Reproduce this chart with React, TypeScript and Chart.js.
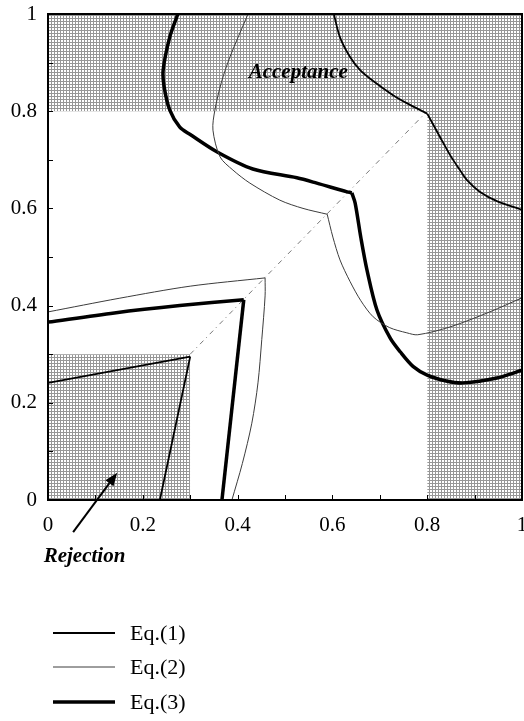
import React, { useEffect, useRef } from 'react';
import { Chart, registerables } from 'chart.js';

Chart.register(...registerables);

type Pt = [number, number];

// ---- data ----
const xTickLabels = ['0', '0.2', '0.4', '0.6', '0.8', '1'];
const yTickLabels = ['0', '0.2', '0.4', '0.6', '0.8', '1'];
const acceptanceThreshold = 0.8;
const rejectionThreshold = 0.3;
const legendLabels = ['Eq.(1)', 'Eq.(2)', 'Eq.(3)'];

// Eq.(1)
const eq1RejectH: Pt[] = [[0, 0.241], [0.3, 0.295]];
const eq1RejectV: Pt[] = [[0.3, 0.295], [0.236, 0]];
const eq1AcceptUp: Pt[] = [[0.8, 0.795], [0.76, 0.815], [0.728, 0.833], [0.686, 0.862], [0.658, 0.885], [0.637, 0.912], [0.616, 0.952], [0.603, 1]];
const eq1AcceptRight: Pt[] = [[0.8, 0.795], [0.827, 0.747], [0.85, 0.707], [0.869, 0.679], [0.884, 0.658], [0.91, 0.635], [0.947, 0.615], [1, 0.597]];

// Eq.(2)
const eq2RejectH: Pt[] = [[0, 0.387], [0.15, 0.415], [0.3, 0.44], [0.458, 0.457]];
const eq2RejectV: Pt[] = [[0.458, 0.457], [0.458, 0.42], [0.451, 0.33], [0.443, 0.241], [0.43, 0.158], [0.41, 0.075], [0.388, 0]];
const eq2AcceptUp: Pt[] = [[0.589, 0.588], [0.538, 0.6], [0.489, 0.617], [0.426, 0.652], [0.39, 0.679], [0.363, 0.706], [0.348, 0.761], [0.352, 0.802], [0.366, 0.86], [0.384, 0.912], [0.422, 1]];
const eq2AcceptDown: Pt[] = [[0.589, 0.588], [0.601, 0.541], [0.616, 0.494], [0.637, 0.45], [0.66, 0.41], [0.686, 0.377], [0.72, 0.355], [0.757, 0.344], [0.78, 0.34], [0.848, 0.356], [0.932, 0.387], [1, 0.416]];

// Eq.(3)
const eq3RejectH: Pt[] = [[0, 0.366], [0.14, 0.385], [0.278, 0.4], [0.413, 0.412]];
const eq3RejectV: Pt[] = [[0.413, 0.412], [0.367, 0]];
const eq3AcceptUp: Pt[] = [[0.641, 0.632], [0.631, 0.634], [0.567, 0.652], [0.525, 0.663], [0.432, 0.681], [0.357, 0.716], [0.3, 0.752], [0.278, 0.767], [0.257, 0.802], [0.245, 0.85], [0.243, 0.885], [0.257, 0.953], [0.274, 1]];
const eq3AcceptDown: Pt[] = [[0.641, 0.632], [0.648, 0.611], [0.66, 0.54], [0.673, 0.473], [0.694, 0.391], [0.722, 0.333], [0.743, 0.305], [0.77, 0.275], [0.8, 0.257], [0.84, 0.245], [0.876, 0.241], [0.947, 0.251], [1, 0.267]];

// diagonal
const diagonal: Pt[] = [[0.3, 0.3], [0.8, 0.8]];

// annotations (data units)
const acceptanceLabelPos: Pt = [0.528, 0.88];
const rejectionLabelPos: Pt = [0.077, -0.117];
const arrowStart: Pt = [0.053, -0.066];
const arrowTip: Pt = [0.146, 0.056];

const FONT = '"Liberation Serif", "Times New Roman", serif';

const toXY = (a: Pt[]) => a.map(([x, y]) => ({ x, y }));

const eqStyles = [
  { borderColor: '#000', borderWidth: 1.8 },
  { borderColor: '#3c3c3c', borderWidth: 1 },
  { borderColor: '#000', borderWidth: 3.5 },
];

function labelFor(list: string[], v: number) {
  const f = list.find((l) => Math.abs(parseFloat(l) - v) < 1e-6);
  return f === undefined ? '' : f;
}

const decorPlugin = {
  id: 'decor',
  afterDraw(chart: any) {
    const { ctx, chartArea: a } = chart;
    const x = chart.scales.x;
    const y = chart.scales.y;
    ctx.save();
    // inward ticks
    ctx.strokeStyle = '#000';
    ctx.lineWidth = 1;
    x.ticks.forEach((t: any) => {
      const px = Math.round(x.getPixelForValue(t.value)) + 0.5;
      ctx.beginPath();
      ctx.moveTo(px, a.bottom);
      ctx.lineTo(px, a.bottom - 5);
      ctx.stroke();
    });
    y.ticks.forEach((t: any) => {
      const py = Math.round(y.getPixelForValue(t.value)) + 0.5;
      ctx.beginPath();
      ctx.moveTo(a.left, py);
      ctx.lineTo(a.left + 5, py);
      ctx.stroke();
    });
    // frame
    ctx.lineWidth = 2;
    ctx.strokeRect(a.left, a.top, a.right - a.left, a.bottom - a.top);

    // labels
    ctx.fillStyle = '#000';
    ctx.font = `bold italic 21px ${FONT}`;
    ctx.textAlign = 'center';
    ctx.textBaseline = 'middle';
    ctx.fillText('Acceptance', x.getPixelForValue(acceptanceLabelPos[0]), y.getPixelForValue(acceptanceLabelPos[1]));
    ctx.fillText('Rejection', x.getPixelForValue(rejectionLabelPos[0]), y.getPixelForValue(rejectionLabelPos[1]));

    // arrow
    const sx = x.getPixelForValue(arrowStart[0]);
    const sy = y.getPixelForValue(arrowStart[1]);
    const tx = x.getPixelForValue(arrowTip[0]);
    const ty = y.getPixelForValue(arrowTip[1]);
    const ang = Math.atan2(ty - sy, tx - sx);
    const hl = 13;
    const hw = 5;
    const bx = tx - hl * Math.cos(ang);
    const by = ty - hl * Math.sin(ang);
    ctx.lineWidth = 2;
    ctx.beginPath();
    ctx.moveTo(sx, sy);
    ctx.lineTo(bx, by);
    ctx.stroke();
    ctx.beginPath();
    ctx.moveTo(tx, ty);
    ctx.lineTo(bx + hw * Math.sin(ang), by - hw * Math.cos(ang));
    ctx.lineTo(bx - hw * Math.sin(ang), by + hw * Math.cos(ang));
    ctx.closePath();
    ctx.fill();

    // legend
    const rows = [633, 667, 702];
    ctx.font = `22px ${FONT}`;
    ctx.textAlign = 'left';
    legendLabels.forEach((lab, i) => {
      const st = eqStyles[i];
      ctx.strokeStyle = st.borderColor;
      ctx.lineWidth = st.borderWidth;
      ctx.beginPath();
      ctx.moveTo(53, rows[i]);
      ctx.lineTo(115, rows[i]);
      ctx.stroke();
      ctx.fillText(lab, 130, rows[i] + 1);
    });
    ctx.restore();
  },
};

function makePattern(ctx: CanvasRenderingContext2D) {
  const c = document.createElement('canvas');
  c.width = 3;
  c.height = 3;
  const g = c.getContext('2d')!;
  g.fillStyle = '#ffffff';
  g.fillRect(0, 0, 3, 3);
  g.fillStyle = '#969696';
  g.fillRect(0, 0, 3, 1);
  g.fillRect(0, 0, 1, 3);
  return ctx.createPattern(c, 'repeat');
}

export default function App() {
  const ref = useRef<HTMLCanvasElement | null>(null);

  useEffect(() => {
    const canvas = ref.current!;
    const ctx = canvas.getContext('2d')!;
    const pattern = makePattern(ctx);

    const curve = (data: Pt[], eq: number, tension: number) => ({
      data: toXY(data),
      borderColor: eqStyles[eq].borderColor,
      borderWidth: eqStyles[eq].borderWidth,
      pointRadius: 0,
      tension,
      fill: false,
      order: 1,
    });

    const shade = (data: Pt[], fill: any) => ({
      data: toXY(data),
      borderColor: 'transparent',
      borderWidth: 0,
      backgroundColor: pattern,
      pointRadius: 0,
      tension: 0,
      fill,
      order: 10,
    });

    const chart = new Chart(ctx, {
      type: 'line',
      data: {
        datasets: [
          curve(eq1RejectH, 0, 0),
          curve(eq1RejectV, 0, 0),
          curve(eq1AcceptUp, 0, 0.3),
          curve(eq1AcceptRight, 0, 0.3),
          curve(eq2RejectH, 1, 0.3),
          curve(eq2RejectV, 1, 0.3),
          curve(eq2AcceptUp, 1, 0.3),
          curve(eq2AcceptDown, 1, 0.3),
          curve(eq3RejectH, 2, 0.3),
          curve(eq3RejectV, 2, 0),
          curve(eq3AcceptUp, 2, 0.3),
          curve(eq3AcceptDown, 2, 0.3),
          {
            data: toXY(diagonal),
            borderColor: '#777',
            borderWidth: 1,
            borderDash: [5, 4, 1, 4],
            pointRadius: 0,
            fill: false,
            order: 2,
          },
          shade([[0, 1], [1, 1]], { value: acceptanceThreshold }),
          shade([[acceptanceThreshold, 1], [1, 1]], 'origin'),
          shade([[0, rejectionThreshold], [rejectionThreshold, rejectionThreshold]], 'origin'),
        ] as any,
      },
      options: {
        animation: false,
        responsive: false,
        events: [],
        layout: { padding: { top: 14, right: 2, left: 0, bottom: 0 } },
        plugins: { legend: { display: false }, tooltip: { enabled: false } },
        scales: {
          x: {
            type: 'linear',
            min: 0,
            max: 1,
            border: { display: false },
            grid: { display: false, drawTicks: false },
            ticks: {
              stepSize: 0.1,
              autoSkip: false,
              maxRotation: 0,
              padding: 13,
              color: '#000',
              font: { family: FONT, size: 21 },
              callback: (v: any) => labelFor(xTickLabels, Number(v)),
            },
            afterFit: (s: any) => {
              s.height = 221;
              s.paddingLeft = 0;
              s.paddingRight = 0;
            },
          },
          y: {
            type: 'linear',
            min: 0,
            max: 1,
            border: { display: false },
            grid: { display: false, drawTicks: false },
            ticks: {
              stepSize: 0.1,
              autoSkip: false,
              padding: 11,
              color: '#000',
              font: { family: FONT, size: 21 },
              callback: (v: any) => labelFor(yTickLabels, Number(v)),
            },
            afterFit: (s: any) => {
              s.width = 48;
              s.paddingTop = 0;
              s.paddingBottom = 0;
            },
          },
        },
      } as any,
      plugins: [decorPlugin],
    });
    return () => chart.destroy();
  }, []);

  return (
    <div style={{ position: 'absolute', left: 0, top: 0, width: 524, height: 721, background: '#fff' }}>
      <canvas ref={ref} width={524} height={721} style={{ display: 'block' }} />
    </div>
  );
}
